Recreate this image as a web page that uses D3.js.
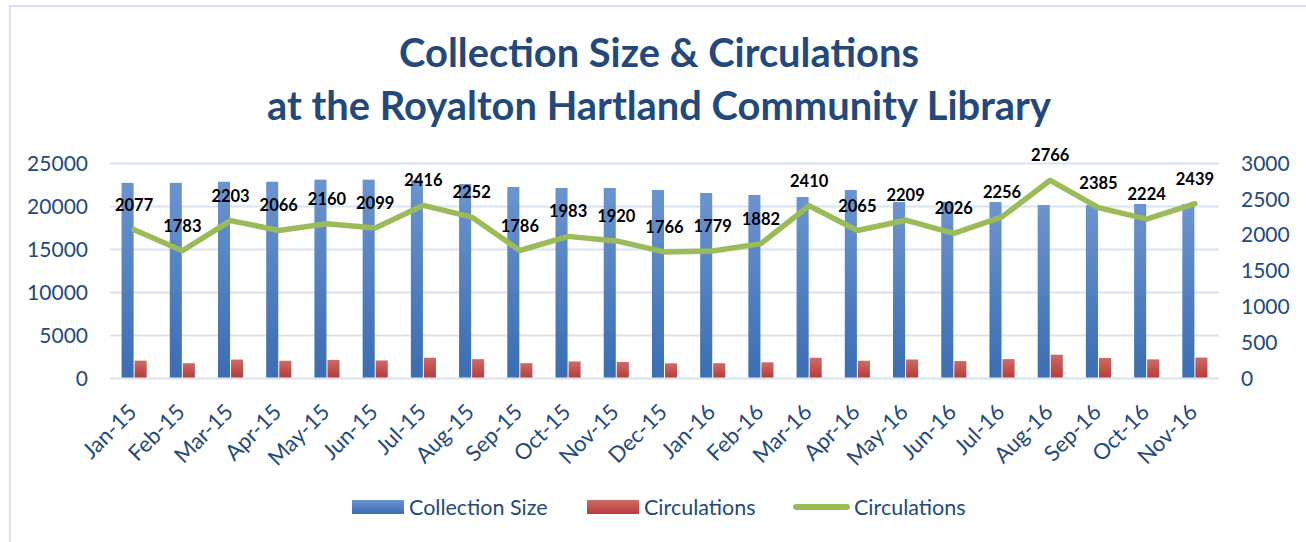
<!DOCTYPE html>
<html>
<head>
<meta charset="utf-8">
<script src="https://cdn.jsdelivr.net/npm/d3@7"></script>
<style>
  html, body { margin: 0; padding: 0; background: #fff; }
  svg { display: block; font-family: Lato, "Open Sans", sans-serif; }
</style>
</head>
<body>
<svg id="chart" width="1306" height="542"></svg>
<script>
// chart data
const months = ['Jan-15', 'Feb-15', 'Mar-15', 'Apr-15', 'May-15', 'Jun-15', 'Jul-15', 'Aug-15',
  'Sep-15', 'Oct-15', 'Nov-15', 'Dec-15', 'Jan-16', 'Feb-16', 'Mar-16', 'Apr-16', 'May-16',
  'Jun-16', 'Jul-16', 'Aug-16', 'Sep-16', 'Oct-16', 'Nov-16'];
const collectionSize = [22750, 22750, 22880, 22880, 23120, 23120, 23050, 22620,
  22270, 22150, 22150, 21920, 21570, 21340, 21100, 21920, 20520,
  20520, 20520, 20170, 20170, 20290, 20290];
const circulations = [2077, 1783, 2203, 2066, 2160, 2099, 2416, 2252,
  1786, 1983, 1920, 1766, 1779, 1882, 2410, 2065, 2209,
  2026, 2256, 2766, 2385, 2224, 2439];
const leftTicks = [0, 5000, 10000, 15000, 20000, 25000];
const rightTicks = [0, 500, 1000, 1500, 2000, 2500, 3000];
const titleLines = ['Collection Size & Circulations', 'at the Royalton Hartland Community Library'];
const legendItems = [
  { label: 'Collection Size', type: 'bar', fill: 'url(#gradBlue)' },
  { label: 'Circulations', type: 'bar', fill: 'url(#gradRed)' },
  { label: 'Circulations', type: 'line' }
];

const textBlue = '#23497b';
const gridColor = '#d8e3f2';
const lineGreen = '#9bbb59';

const svg = d3.select('#chart');

// gradients for the bars
const defs = svg.append('defs');
function addGradient(id, top, bottom) {
  const g = defs.append('linearGradient').attr('id', id)
    .attr('x1', 0).attr('y1', 0).attr('x2', 0).attr('y2', 1);
  g.append('stop').attr('offset', '0%').attr('stop-color', top);
  g.append('stop').attr('offset', '100%').attr('stop-color', bottom);
}
addGradient('gradBlue', '#6b94cf', '#3a6db2');
addGradient('gradRed', '#cc6b68', '#b83c3a');

// outer border of the chart area
svg.append('rect')
  .attr('x', 10).attr('y', 6)
  .attr('width', 1310).attr('height', 560)
  .attr('fill', 'none')
  .attr('stroke', '#d5e1f1')
  .attr('stroke-width', 2);

// title, sized so line 2 fits its width
const title = svg.append('g').attr('fill', textBlue)
  .attr('font-weight', 'bold').attr('text-anchor', 'middle');
const titleText = title.selectAll('text')
  .data(titleLines)
  .join('text')
  .attr('x', 659)
  .attr('y', (d, i) => 67 + i * 53)
  .attr('font-size', 37)
  .text(d => d);
const measured = titleText.nodes()[1].getComputedTextLength();
titleText.attr('font-size', 37 * 784 / measured);

// scales
const plotLeft = 110, plotRight = 1219, plotTop = 163.5, plotBottom = 378.5;
const x = d3.scaleBand().domain(months).range([plotLeft, plotRight]).padding(0);
const yLeft = d3.scaleLinear().domain([0, 25000]).range([plotBottom, plotTop]);
const yRight = d3.scaleLinear().domain([0, 3000]).range([plotBottom, plotTop]);
const cx = d => x(d) + x.bandwidth() / 2;
const barW = x.bandwidth() * 0.25;

// gridlines
svg.append('g')
  .selectAll('line')
  .data(leftTicks)
  .join('line')
  .attr('x1', plotLeft).attr('x2', plotRight)
  .attr('y1', d => yLeft(d)).attr('y2', d => yLeft(d))
  .attr('stroke', gridColor)
  .attr('stroke-width', 2);

// left axis
const leftAxis = svg.append('g')
  .attr('transform', `translate(${plotLeft - 22},0)`)
  .call(d3.axisLeft(yLeft).tickValues(leftTicks).tickSize(0).tickPadding(0).tickFormat(d3.format('d')));
leftAxis.select('.domain').remove();
leftAxis.selectAll('text')
  .attr('font-family', 'Lato, sans-serif').attr('font-size', 21).attr('fill', textBlue);

// right axis
const rightAxis = svg.append('g')
  .attr('transform', `translate(${plotRight + 22},0)`)
  .call(d3.axisRight(yRight).tickValues(rightTicks).tickSize(0).tickPadding(0).tickFormat(d3.format('d')));
rightAxis.select('.domain').remove();
rightAxis.selectAll('text')
  .attr('font-family', 'Lato, sans-serif').attr('font-size', 21).attr('fill', textBlue);

// bars: collection size
svg.append('g')
  .selectAll('rect')
  .data(months)
  .join('rect')
  .attr('x', (d) => cx(d) - barW - 0.5)
  .attr('y', (d, i) => yLeft(collectionSize[i]))
  .attr('width', barW)
  .attr('height', (d, i) => plotBottom - yLeft(collectionSize[i]) - 1)
  .attr('fill', 'url(#gradBlue)');

// bars: circulations on left axis
svg.append('g')
  .selectAll('rect')
  .data(months)
  .join('rect')
  .attr('x', (d) => cx(d) + 0.5)
  .attr('y', (d, i) => yLeft(circulations[i]))
  .attr('width', barW)
  .attr('height', (d, i) => plotBottom - yLeft(circulations[i]) - 1)
  .attr('fill', 'url(#gradRed)');

// x axis labels
svg.append('g')
  .selectAll('text')
  .data(months)
  .join('text')
  .attr('transform', d => `translate(${cx(d) + 4},${plotBottom + 35}) rotate(-45)`)
  .attr('text-anchor', 'end')
  .attr('font-size', 22)
  .attr('fill', textBlue)
  .text(d => d);

// circulation line on right axis
const line = d3.line()
  .x(d => cx(d))
  .y((d, i) => yRight(circulations[i]));
svg.append('path')
  .datum(months)
  .attr('d', line)
  .attr('fill', 'none')
  .attr('stroke', lineGreen)
  .attr('stroke-width', 5.5)
  .attr('stroke-linejoin', 'round')
  .attr('stroke-linecap', 'round');

// data labels
svg.append('g')
  .selectAll('text')
  .data(months)
  .join('text')
  .attr('x', d => cx(d))
  .attr('y', (d, i) => yRight(circulations[i]) - 19)
  .attr('text-anchor', 'middle')
  .attr('font-size', 16.5)
  .attr('font-weight', 'bold')
  .attr('fill', '#000')
  .text((d, i) => circulations[i]);

// legend
const legendX = [352, 587, 793];
const legend = svg.append('g')
  .selectAll('g')
  .data(legendItems)
  .join('g')
  .attr('transform', (d, i) => `translate(${legendX[i]},507)`);
legend.filter(d => d.type === 'bar').append('rect')
  .attr('x', 0).attr('y', -7).attr('width', 52).attr('height', 14)
  .attr('fill', d => d.fill);
legend.filter(d => d.type === 'line').append('line')
  .attr('x1', 3).attr('x2', 54).attr('y1', 0).attr('y2', 0)
  .attr('stroke', lineGreen).attr('stroke-width', 6).attr('stroke-linecap', 'round');
legend.append('text')
  .attr('x', (d) => d.type === 'line' ? 61 : 57)
  .attr('dy', '0.35em')
  .attr('font-size', 21.5)
  .attr('fill', textBlue)
  .text(d => d.label);
</script>
</body>
</html>
